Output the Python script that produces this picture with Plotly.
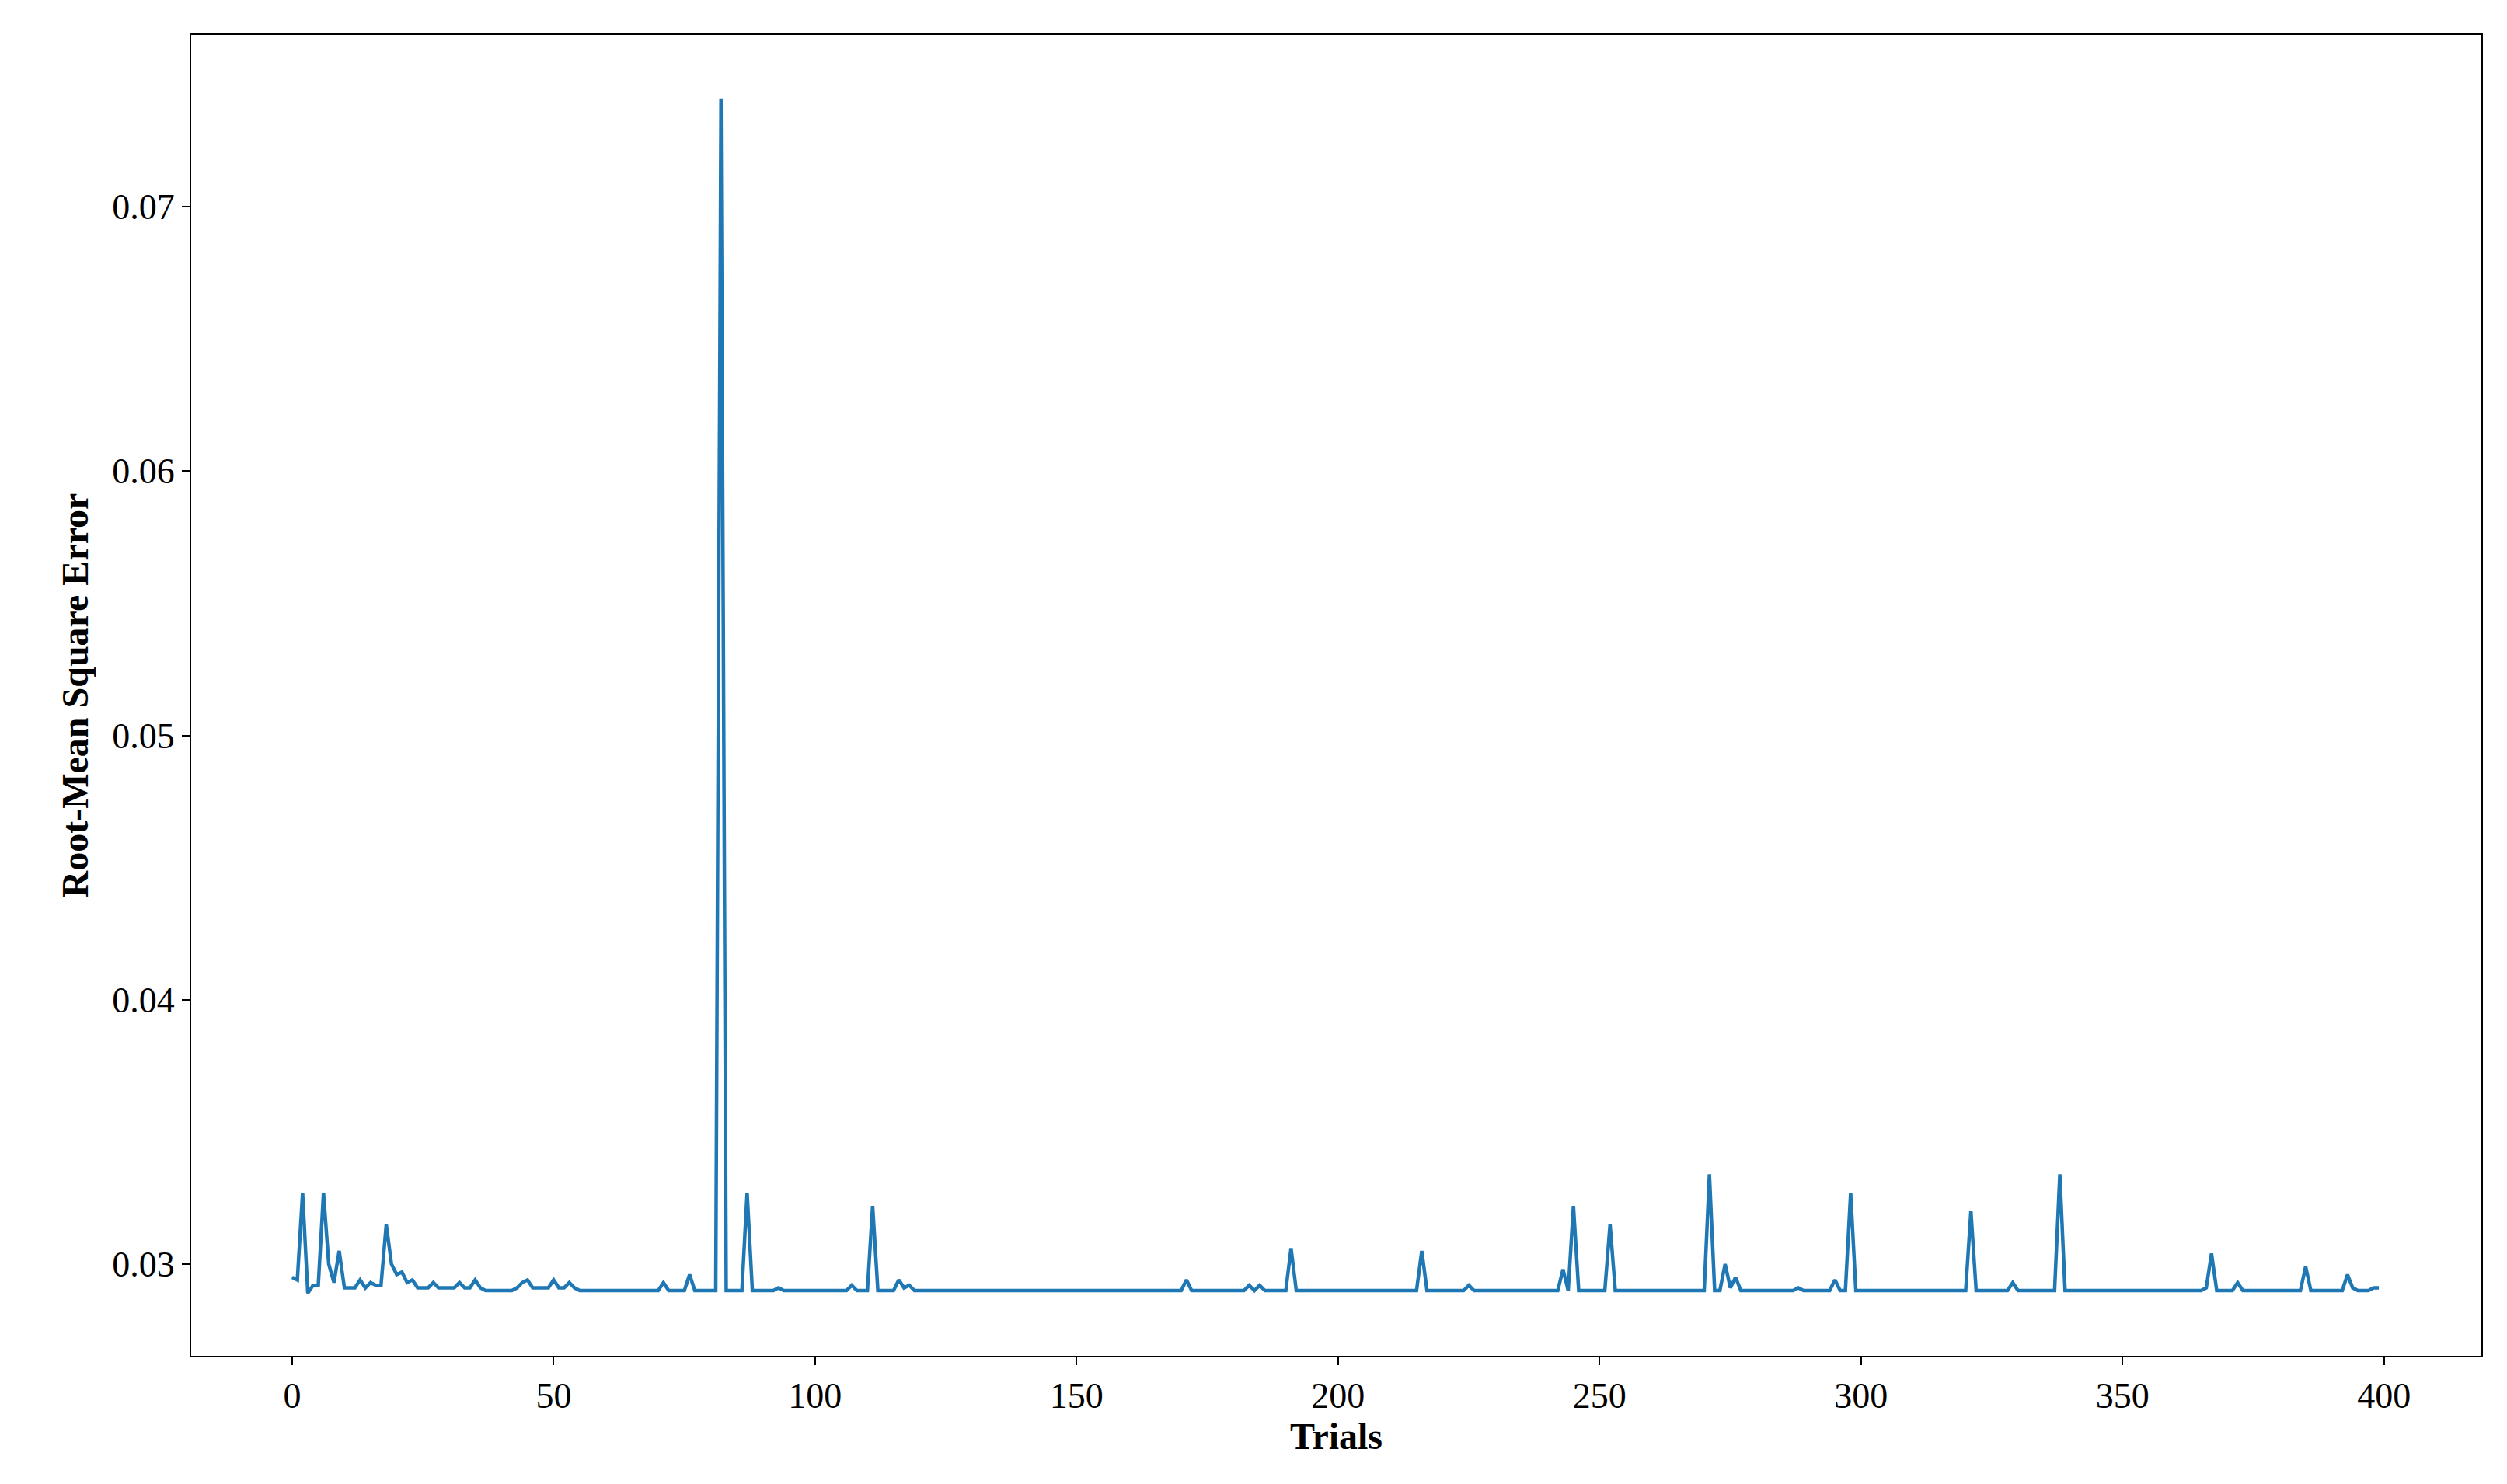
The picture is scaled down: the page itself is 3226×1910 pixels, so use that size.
import plotly.graph_objects as go

trials = list(range(400))
rmse = (
    [0.0295, 0.0294, 0.0327, 0.0289, 0.0292, 0.0292, 0.0327, 0.0300, 0.0293, 0.0305,
     0.0291, 0.0291, 0.0291, 0.0294, 0.0291, 0.0293, 0.0292, 0.0292, 0.0315, 0.0300,
     0.0296, 0.0297, 0.0293, 0.0294, 0.0291, 0.0291, 0.0291, 0.0293, 0.0291, 0.0291,
     0.0291, 0.0291, 0.0293, 0.0291, 0.0291, 0.0294, 0.0291, 0.0290, 0.0290, 0.0290,
     0.0290, 0.0290, 0.0290, 0.0291, 0.0293, 0.0294, 0.0291, 0.0291, 0.0291, 0.0291,
     0.0294, 0.0291, 0.0291, 0.0293, 0.0291, 0.0290, 0.0290, 0.0290, 0.0290, 0.0290,
     0.0290, 0.0290, 0.0290, 0.0290, 0.0290, 0.0290, 0.0290, 0.0290, 0.0290, 0.0290,
     0.0290, 0.0293, 0.0290, 0.0290, 0.0290, 0.0290, 0.0296, 0.0290, 0.0290, 0.0290,
     0.0290, 0.0290, 0.0741, 0.0290, 0.0290, 0.0290, 0.0290, 0.0327, 0.0290, 0.0290,
     0.0290, 0.0290, 0.0290, 0.0291, 0.0290, 0.0290, 0.0290, 0.0290, 0.0290, 0.0290]
    + [0.0290] * 0 +
    [0.0290, 0.0290, 0.0290, 0.0290, 0.0290, 0.0290, 0.0290, 0.0292, 0.0290, 0.0290,
     0.0290, 0.0322, 0.0290, 0.0290, 0.0290, 0.0290, 0.0294, 0.0291, 0.0292, 0.0290,
     0.0290, 0.0290, 0.0290, 0.0290, 0.0290, 0.0290, 0.0290, 0.0290, 0.0290, 0.0290,
     0.0290, 0.0290, 0.0290, 0.0290, 0.0290, 0.0290, 0.0290, 0.0290, 0.0290, 0.0290,
     0.0290, 0.0290, 0.0290, 0.0290, 0.0290, 0.0290, 0.0290, 0.0290, 0.0290, 0.0290,
     0.0290, 0.0290, 0.0290, 0.0290, 0.0290, 0.0290, 0.0290, 0.0290, 0.0290, 0.0290,
     0.0290, 0.0290, 0.0290, 0.0290, 0.0290, 0.0290, 0.0290, 0.0290, 0.0290, 0.0290,
     0.0290, 0.0294, 0.0290, 0.0290, 0.0290, 0.0290, 0.0290, 0.0290, 0.0290, 0.0290,
     0.0290, 0.0290, 0.0290, 0.0292, 0.0290, 0.0292, 0.0290, 0.0290, 0.0290, 0.0290,
     0.0290, 0.0306, 0.0290, 0.0290, 0.0290, 0.0290, 0.0290, 0.0290, 0.0290, 0.0290]
    +
    [0.0290, 0.0290, 0.0290, 0.0290, 0.0290, 0.0290, 0.0290, 0.0290, 0.0290, 0.0290,
     0.0290, 0.0290, 0.0290, 0.0290, 0.0290, 0.0290, 0.0305, 0.0290, 0.0290, 0.0290,
     0.0290, 0.0290, 0.0290, 0.0290, 0.0290, 0.0292, 0.0290, 0.0290, 0.0290, 0.0290,
     0.0290, 0.0290, 0.0290, 0.0290, 0.0290, 0.0290, 0.0290, 0.0290, 0.0290, 0.0290,
     0.0290, 0.0290, 0.0290, 0.0298, 0.0290, 0.0322, 0.0290, 0.0290, 0.0290, 0.0290,
     0.0290, 0.0290, 0.0315, 0.0290, 0.0290, 0.0290, 0.0290, 0.0290, 0.0290, 0.0290,
     0.0290, 0.0290, 0.0290, 0.0290, 0.0290, 0.0290, 0.0290, 0.0290, 0.0290, 0.0290,
     0.0290, 0.0334, 0.0290, 0.0290, 0.0300, 0.0291, 0.0295, 0.0290, 0.0290, 0.0290,
     0.0290, 0.0290, 0.0290, 0.0290, 0.0290, 0.0290, 0.0290, 0.0290, 0.0291, 0.0290,
     0.0290, 0.0290, 0.0290, 0.0290, 0.0290, 0.0294, 0.0290, 0.0290, 0.0327, 0.0290]
    +
    [0.0290, 0.0290, 0.0290, 0.0290, 0.0290, 0.0290, 0.0290, 0.0290, 0.0290, 0.0290,
     0.0290, 0.0290, 0.0290, 0.0290, 0.0290, 0.0290, 0.0290, 0.0290, 0.0290, 0.0290,
     0.0290, 0.0320, 0.0290, 0.0290, 0.0290, 0.0290, 0.0290, 0.0290, 0.0290, 0.0293,
     0.0290, 0.0290, 0.0290, 0.0290, 0.0290, 0.0290, 0.0290, 0.0290, 0.0334, 0.0290,
     0.0290, 0.0290, 0.0290, 0.0290, 0.0290, 0.0290, 0.0290, 0.0290, 0.0290, 0.0290,
     0.0290, 0.0290, 0.0290, 0.0290, 0.0290, 0.0290, 0.0290, 0.0290, 0.0290, 0.0290,
     0.0290, 0.0290, 0.0290, 0.0290, 0.0290, 0.0290, 0.0291, 0.0304, 0.0290, 0.0290,
     0.0290, 0.0290, 0.0293, 0.0290, 0.0290, 0.0290, 0.0290, 0.0290, 0.0290, 0.0290,
     0.0290, 0.0290, 0.0290, 0.0290, 0.0290, 0.0299, 0.0290, 0.0290, 0.0290, 0.0290,
     0.0290, 0.0290, 0.0290, 0.0296, 0.0291, 0.0290, 0.0290, 0.0290, 0.0291, 0.0291]
)

fig = go.Figure(go.Scatter(x=trials, y=rmse, mode="lines",
                           line=dict(color="#1f77b4", width=4.5)))

font = "Liberation Serif"
axis_common = dict(showgrid=False, zeroline=False, showline=True, mirror=True,
                   linecolor="black", linewidth=2, ticks="outside", ticklen=10,
                   tickwidth=2, tickcolor="black",
                   tickfont=dict(family=font, size=46, color="black"))
fig.update_layout(
    width=3226, height=1910,
    margin=dict(l=238, r=41, t=37, b=173),
    plot_bgcolor="white", paper_bgcolor="white", showlegend=False,
    xaxis=dict(range=[-19.3, 418.6], tickvals=[0, 50, 100, 150, 200, 250, 300, 350, 400],
               title=dict(text="<b>Trials</b>", font=dict(family=font, size=48, color="black"), standoff=10),
               **axis_common),
    yaxis=dict(range=[0.02653, 0.0765], tickvals=[0.03, 0.04, 0.05, 0.06, 0.07],
               tickformat=".2f",
               title=dict(text="<b>Root-Mean Square Error</b>", font=dict(family=font, size=48, color="black"), standoff=15),
               **axis_common),
)
fig.write_html("out.html")
